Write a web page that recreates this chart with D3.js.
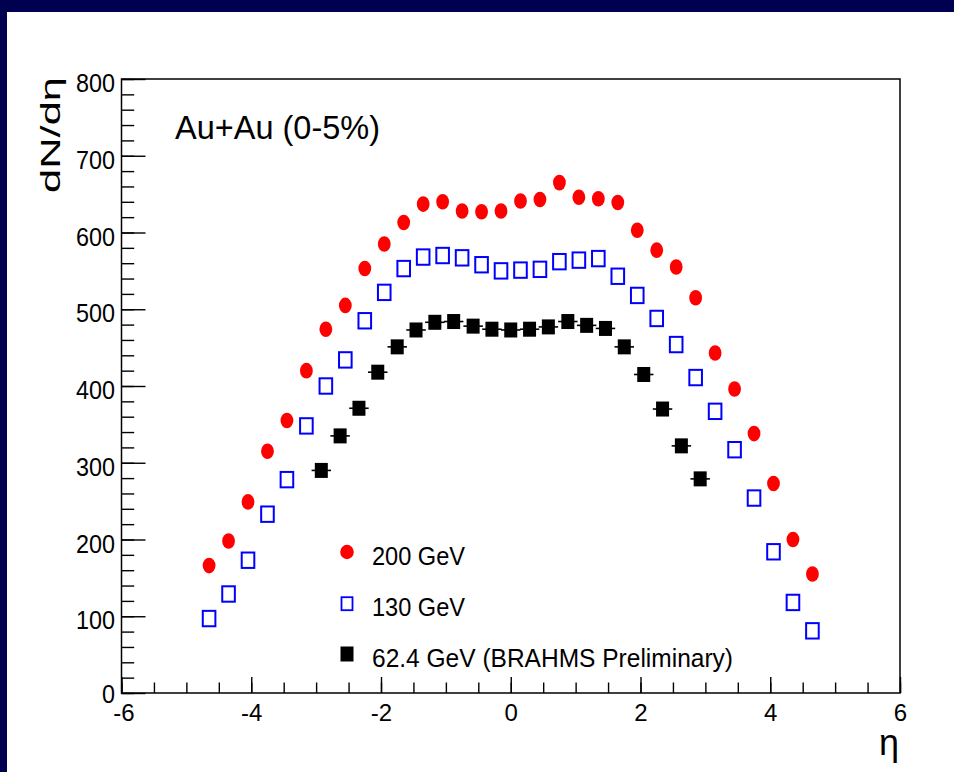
<!DOCTYPE html>
<html>
<head>
<meta charset="utf-8">
<script src="https://cdn.jsdelivr.net/npm/d3@7"></script>
<style>
  html, body { margin: 0; padding: 0; background: #000050; }
  svg { display: block; }
  text { font-family: "Liberation Sans", Arial, sans-serif; fill: #000; }
</style>
</head>
<body>
<svg id="chart" width="954" height="772"></svg>
<script>
// Pseudorapidity grid shared by the 200 and 130 GeV sets
const eta200 = [-4.65, -4.35, -4.05, -3.75, -3.45, -3.15, -2.85, -2.55, -2.25, -1.95, -1.65, -1.35, -1.05, -0.75, -0.45, -0.15,
                0.15, 0.45, 0.75, 1.05, 1.35, 1.65, 1.95, 2.25, 2.55, 2.85, 3.15, 3.45, 3.75, 4.05, 4.35, 4.65];
// dN/deta, Au+Au 200 GeV
const dndeta200 = [166, 198, 249, 315, 355, 420, 474, 505, 553, 585, 613, 637, 640, 628, 627, 628,
                   641, 643, 665, 646, 644, 639, 603, 577, 555, 515, 443, 396, 338, 273, 200, 155];
// dN/deta, Au+Au 130 GeV
const dndeta130 = [97, 129, 173, 233, 278, 348, 400, 434, 485, 522, 553, 568, 570, 567, 558, 550,
                   551, 552, 562, 564, 566, 543, 518, 488, 454, 411, 367, 317, 254, 184, 118, 81];
// 62.4 GeV (BRAHMS preliminary)
const eta62 = [-2.92, -2.63, -2.34, -2.05, -1.75, -1.46, -1.17, -0.88, -0.58, -0.29, 0,
               0.29, 0.58, 0.88, 1.17, 1.46, 1.75, 2.05, 2.34, 2.63, 2.92];
const dndeta62 = [290, 335, 371, 418, 451, 473, 483, 484, 478, 474, 473,
                  474, 477, 484, 479, 475, 451, 415, 370, 322, 279];
const etaHalfBin = 0.15;

// Axis ticks
const xMajorTicks = [-6, -4, -2, 0, 2, 4, 6];
const xMinorTicks = d3.range(-6, 6.001, 0.5);
const yMajorTicks = [0, 100, 200, 300, 400, 500, 600, 700, 800];
const yMinorTicks = d3.range(0, 800.001, 20);

const seriesNames = ["200 GeV", "130 GeV", "62.4 GeV (BRAHMS Preliminary)"];
const titleText = "Au+Au (0-5%)";
const yTitle = "dN/dη";
const xTitle = "η";

const svg = d3.select("#chart");

// panel
svg.append("rect").attr("x", 0).attr("y", 0).attr("width", 954).attr("height", 772).attr("fill", "#000050");
svg.append("rect").attr("x", 7).attr("y", 12).attr("width", 947).attr("height", 760).attr("fill", "#ffffff");

const x = d3.scaleLinear().domain([-6, 6]).range([121.5, 900]);
const y = d3.scaleLinear().domain([0, 800]).range([693, 79]);

// minor ticks
svg.append("g").attr("transform", `translate(0,${y(0)})`)
  .call(d3.axisBottom(x).tickValues(xMinorTicks).tickSizeInner(-10.5).tickSizeOuter(0).tickFormat(""))
  .call(g => g.select(".domain").remove())
  .call(g => g.selectAll("line").attr("stroke", "#000").attr("stroke-width", 1.4));
svg.append("g").attr("transform", `translate(${x(-6)},0)`)
  .call(d3.axisLeft(y).tickValues(yMinorTicks).tickSizeInner(-12.7).tickSizeOuter(0).tickFormat(""))
  .call(g => g.select(".domain").remove())
  .call(g => g.selectAll("line").attr("stroke", "#000").attr("stroke-width", 1.4));

// major ticks with labels
const xAxis = svg.append("g").attr("transform", `translate(0,${y(0)})`)
  .call(d3.axisBottom(x).tickValues(xMajorTicks).tickSizeInner(-16).tickSizeOuter(0).tickPadding(0).tickFormat(d3.format("d")))
  .call(g => g.select(".domain").remove())
  .call(g => g.selectAll("line").attr("stroke", "#000").attr("stroke-width", 1.4));
xAxis.selectAll("text")
  .attr("y", 28).attr("dy", null)
  .style("font-family", "Liberation Sans, Arial, sans-serif")
  .style("font-size", "24px").attr("fill", "#000")
  .attr("dx", d => d === -6 ? 2 : 0)
  .text(d => d < 0 ? "-" + Math.abs(d) : String(d));

const yAxis = svg.append("g").attr("transform", `translate(${x(-6)},0)`)
  .call(d3.axisLeft(y).tickValues(yMajorTicks).tickSizeInner(-24).tickSizeOuter(0).tickPadding(6.5).tickFormat(d3.format("d")))
  .call(g => g.select(".domain").remove())
  .call(g => g.selectAll("line").attr("stroke", "#000").attr("stroke-width", 1.4));
yAxis.selectAll("text")
  .attr("dy", null).attr("y", d => d === 0 ? 9.5 : 12.6)
  .style("font-family", "Liberation Sans, Arial, sans-serif")
  .style("font-size", "26px").attr("fill", "#000")
  .attr("textLength", d => String(d).length * 13)
  .attr("lengthAdjust", "spacingAndGlyphs");

// frame
svg.append("rect")
  .attr("x", x(-6)).attr("y", y(800))
  .attr("width", x(6) - x(-6)).attr("height", y(0) - y(800))
  .attr("fill", "none").attr("stroke", "#000").attr("stroke-width", 1.5);

// axis titles
svg.append("text")
  .attr("transform", `translate(59.5,${y(800) - 2}) rotate(-90)`)
  .attr("text-anchor", "end")
  .style("font-size", "28px")
  .attr("textLength", 116).attr("lengthAdjust", "spacingAndGlyphs")
  .text(yTitle);
svg.append("text")
  .attr("x", 899).attr("y", 755)
  .attr("text-anchor", "end")
  .style("font-size", "36px")
  .text(xTitle);

// plot title
svg.append("text")
  .attr("x", 175).attr("y", 139)
  .style("font-size", "33px")
  .attr("textLength", 205).attr("lengthAdjust", "spacingAndGlyphs")
  .text(titleText);

// 62.4 GeV: horizontal bin bars and filled squares
const g62 = svg.append("g");
g62.selectAll("line").data(eta62).join("line")
  .attr("x1", d => x(d - etaHalfBin)).attr("x2", d => x(d + etaHalfBin))
  .attr("y1", (d, i) => y(dndeta62[i])).attr("y2", (d, i) => y(dndeta62[i]))
  .attr("stroke", "#000").attr("stroke-width", 1.6);
g62.selectAll("rect").data(eta62).join("rect")
  .attr("x", d => x(d) - 6.5).attr("y", (d, i) => y(dndeta62[i]) - 7.5)
  .attr("width", 13).attr("height", 15)
  .attr("fill", "#000");

// 130 GeV: open blue squares
svg.append("g").selectAll("rect").data(eta200).join("rect")
  .attr("x", d => x(d) - 6.3).attr("y", (d, i) => y(dndeta130[i]) - 7.7)
  .attr("width", 12.6).attr("height", 15.4)
  .attr("fill", "none").attr("stroke", "#0000ff").attr("stroke-width", 2);

// 200 GeV: red dots
svg.append("g").selectAll("ellipse").data(eta200).join("ellipse")
  .attr("cx", d => x(d)).attr("cy", (d, i) => y(dndeta200[i]))
  .attr("rx", 6.4).attr("ry", 7.8)
  .attr("fill", "#ff0000");

// legend
const legend = svg.append("g");
const legendRows = [552, 603.7, 654];
const legendWidths = [93, 93, 361];
legend.append("ellipse").attr("cx", 347).attr("cy", legendRows[0]).attr("rx", 6.8).attr("ry", 7.2).attr("fill", "#ff0000");
legend.append("rect").attr("x", 341.5).attr("y", legendRows[1] - 6.5).attr("width", 11).attr("height", 13)
  .attr("fill", "none").attr("stroke", "#0000ff").attr("stroke-width", 1.8);
legend.append("rect").attr("x", 340.5).attr("y", legendRows[2] - 7.5).attr("width", 13).attr("height", 15).attr("fill", "#000");
legend.selectAll("text").data(seriesNames).join("text")
  .attr("x", 372).attr("y", (d, i) => legendRows[i] + 12.5)
  .style("font-size", "26px")
  .attr("textLength", (d, i) => legendWidths[i]).attr("lengthAdjust", "spacingAndGlyphs")
  .text(d => d);
</script>
</body>
</html>
